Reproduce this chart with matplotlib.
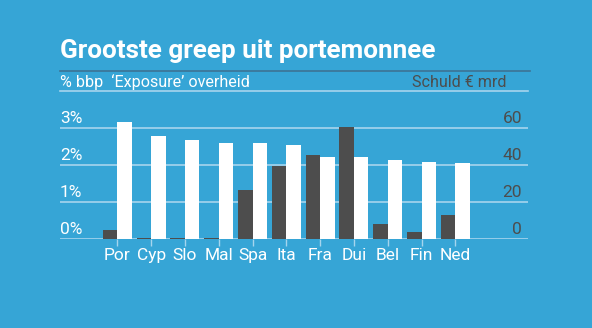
import numpy as np
import matplotlib
matplotlib.use('Agg')
from matplotlib import pyplot as plt
import matplotlib.transforms as mtransforms

landen = ['Por', 'Cyp', 'Slo', 'Mal', 'Spa', 'Ita', 'Fra', 'Dui', 'Bel', 'Fin', 'Ned']
exposure_bbp = [3.17, 2.79, 2.68, 2.60, 2.59, 2.55, 2.22, 2.22, 2.14, 2.10, 2.07]
schuld_mrd = [5.2, 0.8, 0.8, 0.6, 26.8, 39.6, 45.6, 60.9, 8.4, 3.9, 13.1]
links_ticks = [0, 1, 2, 3]
links_labels = ['0%', '1%', '2%', '3%']
rechts_labels = ['0', '20', '40', '60']

bg = '#36a5d6'
donker = '#4d4d4d'
grid_kleur = '#a6d5ee'
plt.rcParams['font.family'] = ['Roboto', 'DejaVu Sans']

W, H = 592, 328
fig = plt.figure(figsize=(W / 100, H / 100), dpi=100, facecolor=bg)

# axes geplaatst in pixels
x0, x1 = 60, 528
y_nul, px_per_pct = 239.3, 37.0
ymax = 3.5
ax = fig.add_axes([x0 / W, (H - y_nul) / H, (x1 - x0) / W, ymax * px_per_pct / H])
ax.set_xlim(-1.695, 12.15)
ax.set_ylim(0, ymax)

x = np.arange(len(landen))
b = 0.43
ax2 = ax.twinx()
ax2.set_ylim(0, ymax * 20)
ax2.set_zorder(ax.get_zorder() - 1)
ax.patch.set_visible(False)
ax2.patch.set_visible(False)

for t in links_ticks:
    ax2.axhline(t * 20, color=grid_kleur, lw=1.2, zorder=1)
ax2.bar(x - b / 2, schuld_mrd, width=b, color=donker, zorder=3)
ax.bar(x + b / 2, exposure_bbp, width=b, color='white', zorder=3)

trans = mtransforms.blended_transform_factory(ax.transAxes, ax.transData)
for t, l, r in zip(links_ticks, links_labels, rechts_labels):
    ax.text(0, t + 0.07, l, transform=trans, ha='left', va='bottom', color='white', fontsize=12.5)
    ax.text(0.9875, t + 0.07, r, transform=trans, ha='right', va='bottom', color=donker, fontsize=12.5)

ax.set_yticks([])
ax2.set_yticks([])
ax.set_xticks(x)
ax.set_xticklabels(landen, color='white', fontsize=12.5)
ax.tick_params(axis='x', length=5, color=grid_kleur, width=1, pad=1)
for a in (ax, ax2):
    for s in a.spines.values():
        s.set_visible(False)

# titel en ondertitel
fig.text(x0 / W, 1 - 51 / H, 'Grootste greep uit portemonnee', color='white',
         fontsize=18.8, fontweight='bold', ha='left', va='center')
fig.add_artist(plt.Line2D([x0 / W, 530 / W], [1 - 71.3 / H] * 2, color='#3d7394', lw=1.2))
fig.text(x0 / W, 1 - 82.5 / H, '% bbp  \u2018Exposure\u2019 overheid', color='white',
         fontsize=11.6, ha='left', va='center')
fig.text(506 / W, 1 - 82.5 / H, 'Schuld \u20ac mrd', color=donker,
         fontsize=11.6, ha='right', va='center')
fig.add_artist(plt.Line2D([x0 / W, 528 / W], [1 - 91.3 / H] * 2, color=grid_kleur, lw=1.2))

fig.savefig('out.png', dpi=100, facecolor=bg)
